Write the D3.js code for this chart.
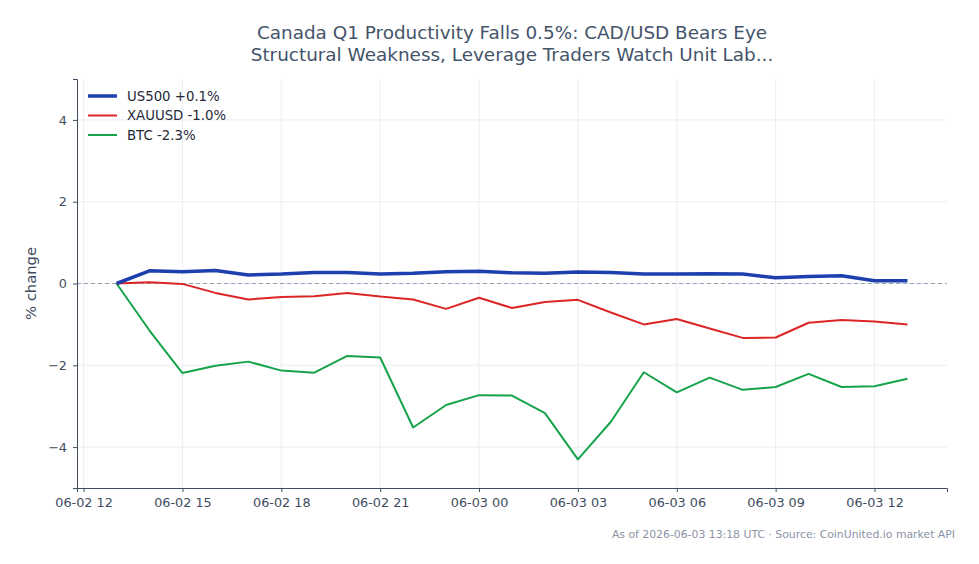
<!DOCTYPE html>
<html>
    <head>
        <meta charset="UTF-8"/>
        <style>
            body { margin: 0; background: #fff; }
            text { font-family: "DejaVu Sans", sans-serif; }
        </style>
    </head>
    <body>
        <script src="https://d3js.org/d3.v7.min.js" type="text/javascript"></script>
        <script>
        // hourly points, 06-02 13:00 .. 06-03 13:00 UTC
        let startTime = "2026-06-02T13:00:00Z";
        let us500 = [0, 0.31, 0.29, 0.32, 0.21, 0.23, 0.27, 0.27, 0.23, 0.25, 0.29, 0.30, 0.26,
                     0.25, 0.28, 0.27, 0.23, 0.23, 0.24, 0.23, 0.14, 0.17, 0.19, 0.065, 0.065];
        let xauusd = [0, 0.03, -0.01, -0.23, -0.39, -0.33, -0.31, -0.23, -0.32, -0.39, -0.62, -0.35, -0.60,
                      -0.45, -0.40, -0.71, -1.00, -0.87, -1.10, -1.33, -1.32, -0.96, -0.89, -0.93, -1.00];
        let btc = [0, -1.15, -2.19, -2.01, -1.91, -2.13, -2.18, -1.77, -1.81, -3.52, -2.97, -2.73, -2.74,
                   -3.17, -4.30, -3.38, -2.17, -2.66, -2.30, -2.60, -2.53, -2.21, -2.53, -2.51, -2.33];
        let seriesNames = ["US500 +0.1%", "XAUUSD -1.0%", "BTC -2.3%"];
        let seriesColors = ["#1e40af", "#dc2626", "#16a34a"];
        let seriesWidths = [3.5, 2, 2];
        let yTicks = [-4, -2, 0, 2, 4];

        let width = 979;
        let height = 564;
        let margin = {top: 79, right: 32, bottom: 76, left: 77};
        let hour = 3600 * 1000;
        let t0 = new Date(startTime).getTime();
        let times = us500.map(function(d, i) { return new Date(t0 + i * hour); });
        let series = [us500, xauusd, btc];

        let svg = d3.select("body")
            .append("svg")
            .attr("width", width)
            .attr("height", height);

        let x = d3.scaleUtc()
            .domain([new Date(t0 - 1.2 * hour), new Date(t0 + 25.2 * hour)])
            .range([margin.left, width - margin.right]);
        let y = d3.scaleLinear()
            .domain([-5, 5])
            .range([height - margin.bottom, margin.top]);

        let xTicks = d3.range(0, 9).map(function(i) { return new Date(t0 + (-1 + 3 * i) * hour); });
        let fmt = d3.utcFormat("%m-%d %H");

        // grid
        svg.append("g").selectAll("line")
            .data(xTicks).enter().append("line")
            .attr("x1", function(d) { return x(d); })
            .attr("x2", function(d) { return x(d); })
            .attr("y1", margin.top)
            .attr("y2", height - margin.bottom)
            .attr("stroke", "#e6eaf0")
            .attr("stroke-width", 0.8);
        svg.append("g").selectAll("line")
            .data(yTicks).enter().append("line")
            .attr("x1", margin.left)
            .attr("x2", width - margin.right)
            .attr("y1", function(d) { return y(d); })
            .attr("y2", function(d) { return y(d); })
            .attr("stroke", "#e6eaf0")
            .attr("stroke-width", 0.8);

        // zero line
        svg.append("line")
            .attr("x1", margin.left)
            .attr("x2", width - margin.right)
            .attr("y1", y(0))
            .attr("y2", y(0))
            .attr("stroke", "#94a3b8")
            .attr("stroke-width", 1)
            .attr("stroke-dasharray", "4,3");

        // axes
        let xAxis = svg.append("g")
            .attr("transform", "translate(0," + (height - margin.bottom) + ")")
            .call(d3.axisBottom(x).tickValues(xTicks).tickFormat(fmt).tickSizeOuter(0).tickSize(4).tickPadding(6));
        let yAxis = svg.append("g")
            .attr("transform", "translate(" + margin.left + ",0)")
            .call(d3.axisLeft(y).tickValues(yTicks).tickFormat(function(d) { return d < 0 ? "\u2212" + Math.abs(d) : d; })
                .tickSizeOuter(0).tickSize(4).tickPadding(6));
        [xAxis, yAxis].forEach(function(a) {
            a.select(".domain").attr("stroke", "#3e4c5e").attr("stroke-width", 1);
            a.selectAll(".tick line").attr("stroke", "#3e4c5e");
            a.selectAll(".tick text")
                .attr("fill", "#3e4c5e")
                .attr("font-size", "12.8px")
                .attr("font-family", "DejaVu Sans");
        });

        // lines
        let line = d3.line()
            .x(function(d, i) { return x(times[i]); })
            .y(function(d) { return y(d); });
        [2, 1, 0].forEach(function(k) {
            svg.append("path")
                .datum(series[k])
                .attr("d", line)
                .attr("fill", "none")
                .attr("stroke", seriesColors[k])
                .attr("stroke-width", seriesWidths[k])
                .attr("stroke-linejoin", "round");
        });

        // legend
        let legend = svg.append("g").attr("transform", "translate(88,96)");
        seriesNames.forEach(function(name, i) {
            legend.append("line")
                .attr("x1", 0).attr("x2", 29)
                .attr("y1", i * 19.5).attr("y2", i * 19.5)
                .attr("stroke", seriesColors[i])
                .attr("stroke-width", seriesWidths[i]);
            legend.append("text")
                .attr("x", 39).attr("y", i * 19.5)
                .attr("dy", "0.35em")
                .attr("font-size", "13.3px")
                .attr("fill", "#1f2937")
                .text(name);
        });

        // y label
        svg.append("text")
            .attr("transform", "translate(36," + y(0) + ") rotate(-90)")
            .attr("text-anchor", "middle")
            .attr("font-size", "14.8px")
            .attr("fill", "#3e4c5e")
            .text("% change");

        // title
        let titleLines = ["Canada Q1 Productivity Falls 0.5%: CAD/USD Bears Eye",
                          "Structural Weakness, Leverage Traders Watch Unit Lab..."];
        svg.append("g").selectAll("text")
            .data(titleLines).enter().append("text")
            .attr("x", (margin.left + width - margin.right) / 2)
            .attr("y", function(d, i) { return 39 + i * 21.5; })
            .attr("text-anchor", "middle")
            .attr("font-size", "18.4px")
            .attr("fill", "#44546a")
            .text(function(d) { return d; });

        // footer
        svg.append("text")
            .attr("x", 955)
            .attr("y", 538)
            .attr("text-anchor", "end")
            .attr("font-size", "10.85px")
            .attr("fill", "#8a94a6")
            .text("As of 2026-06-03 13:18 UTC \u00b7 Source: CoinUnited.io market API");
        </script>
    </body>
</html>
